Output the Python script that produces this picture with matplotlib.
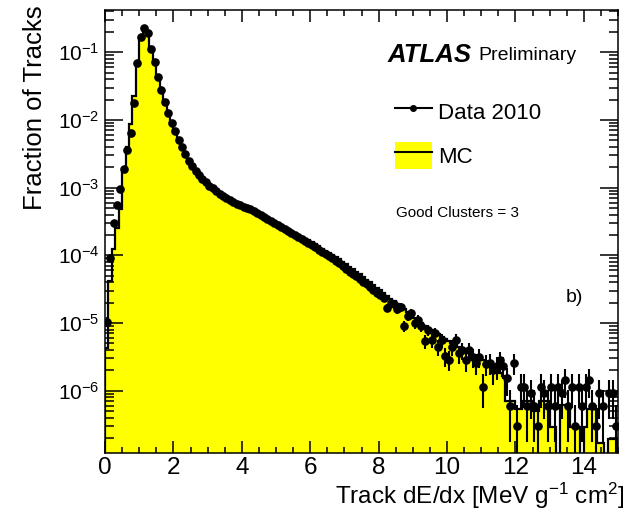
import numpy as np
import matplotlib
matplotlib.use("Agg")
import matplotlib.pyplot as plt
from matplotlib.ticker import MultipleLocator, LogLocator, FixedLocator, NullFormatter
from matplotlib.lines import Line2D
from matplotlib.patches import Patch

plt.rcParams['font.family'] = ['Liberation Sans', 'DejaVu Sans']
plt.rcParams['mathtext.fontset'] = 'custom'
plt.rcParams['mathtext.rm'] = 'Liberation Sans'
plt.rcParams['mathtext.it'] = 'Liberation Sans:italic'
plt.rcParams['mathtext.bf'] = 'Liberation Sans:bold'

# ---- data: fraction of tracks per 0.1 bin in dE/dx (log10 values)
x_min, x_max, n_bins = 0.0, 15.0, 150
y_decades = [1e-6, 1e-5, 1e-4, 1e-3, 1e-2, 1e-1]

data_log10 = [
    -4.98, -4.04, -3.52, -3.26, -3.02, -2.73, -2.45, -2.20, -1.75, -1.16,
    -0.78, -0.64, -0.71, -0.95, -1.15, -1.37, -1.56, -1.74, -1.90, -2.04,
    -2.17, -2.30, -2.40, -2.50, -2.60, -2.68, -2.75, -2.81, -2.87, -2.92,
    -2.97, -3.01, -3.05, -3.09, -3.12, -3.15, -3.18, -3.21, -3.24, -3.26,
    -3.28, -3.30, -3.32, -3.35, -3.38, -3.41, -3.44, -3.47, -3.50, -3.53,
    -3.55, -3.58, -3.61, -3.64, -3.67, -3.70, -3.73, -3.76, -3.79, -3.82,
    -3.85, -3.88, -3.92, -3.95, -3.98, -4.01, -4.04, -4.08, -4.12, -4.16,
    -4.20, -4.24, -4.28, -4.31, -4.35, -4.39, -4.43, -4.47, -4.51, -4.55,
    -4.58, -4.63, -4.78, -4.70, -4.72, -4.80, -4.76, -5.05, -4.90, -4.85,
    -5.00, -4.95, -5.05, -5.27, -5.10, -5.25, -5.15, -5.35, -5.25, -5.49,
    -5.54, -5.35, -5.25, -5.45, -5.40, -5.55, -5.40, -5.50, -5.59, -5.50,
    -5.94, -5.60, -5.59, -5.70, -5.64, -5.55, -5.63, -5.82, -6.22, -5.59,
    -6.52, -5.94, -5.94, -6.22, -6.04, -6.22, -6.52, -5.94, -6.04, -6.22,
    -5.94, -6.22, -5.94, -6.04, -5.84, -6.22, -5.94, -6.52, -5.94, -6.22,
    -5.94, -5.84, -6.22, -6.52, -6.04, -6.22, np.nan, -6.04, -6.04, -6.52,
]

mc_log10 = [
    -5.37, -4.38, -3.90, -3.60, -3.31, -2.77, -2.40, -2.06, -1.64, -1.20,
    -0.77, -0.63, -0.72, -0.93, -1.14, -1.36, -1.55, -1.73, -1.89, -2.03,
    -2.16, -2.29, -2.39, -2.49, -2.59, -2.67, -2.74, -2.80, -2.86, -2.91,
    -2.96, -3.00, -3.04, -3.08, -3.11, -3.14, -3.17, -3.20, -3.23, -3.25,
    -3.27, -3.29, -3.31, -3.34, -3.37, -3.40, -3.43, -3.46, -3.49, -3.51,
    -3.53, -3.56, -3.59, -3.62, -3.65, -3.68, -3.70, -3.73, -3.76, -3.78,
    -3.81, -3.84, -3.87, -3.90, -3.93, -3.96, -3.99, -4.02, -4.06, -4.10,
    -4.13, -4.17, -4.21, -4.25, -4.28, -4.32, -4.36, -4.40, -4.44, -4.48,
    -4.52, -4.56, -4.60, -4.64, -4.68, -4.72, -4.76, -4.80, -4.84, -4.88,
    -4.92, -4.96, -5.00, -5.04, -5.07, -5.11, -5.14, -5.17, -5.20, -5.23,
    -5.26, -5.29, -5.32, -5.35, -5.38, -5.41, -5.44, -5.47, -5.50, -5.53,
    -5.55, -5.58, -5.62, -5.66, -5.70, -5.74, -5.78, -6.16, -6.16, -6.16,
    -6.27, -6.27, -6.16, -6.16, -6.16, -6.30, -6.30, -6.16, -6.16, -6.16,
    -6.54, -6.54, np.nan, -6.21, -6.21, -6.21, -6.54, -6.54, -6.54, np.nan,
    -6.54, -6.27, -6.27, -6.27, -6.77, -6.77, np.nan, -6.72, -6.72, -6.72,
]

frac_per_track = 10 ** -6.52   # one track in the data sample

edges = np.linspace(x_min, x_max, n_bins + 1)
centers = 0.5 * (edges[:-1] + edges[1:])
data = 10 ** np.array(data_log10)
mc = np.nan_to_num(10 ** np.array(mc_log10), nan=0.0)
data_err = np.sqrt(data * frac_per_track)

fig = plt.figure(figsize=(6.32, 5.11), dpi=100)
ax = fig.add_axes([105 / 632, 1 - 453 / 511, 513 / 632, 443 / 511])

ax.stairs(mc, edges, baseline=0, fill=True, color='#ffff00', lw=0)
ax.stairs(mc, edges, baseline=0, color='black', lw=1.6)
ax.errorbar(centers, data, yerr=data_err, xerr=0.05, fmt='o', color='black',
            ms=5.2, elinewidth=1.5, capsize=0, zorder=3)

ax.set_yscale('log')
ax.set_xlim(x_min, x_max)
ax.set_ylim(1.2e-7, 0.42)

ax.xaxis.set_major_locator(MultipleLocator(2))
ax.xaxis.set_minor_locator(MultipleLocator(0.5))
ax.yaxis.set_major_locator(FixedLocator(y_decades))
ax.yaxis.set_minor_locator(LogLocator(base=10, subs=np.arange(2, 10), numticks=20))
ax.yaxis.set_minor_formatter(NullFormatter())

ax.tick_params(which='both', direction='in', top=True, right=True, width=1.1, colors='black')
ax.tick_params(axis='x', which='major', length=8.5, labelsize=17.5, pad=3)
ax.tick_params(axis='x', which='minor', length=4.3)
ax.tick_params(axis='y', which='major', length=13, labelsize=15, pad=4)
ax.tick_params(axis='y', which='minor', length=6.5)
for s in ax.spines.values():
    s.set_linewidth(1.1)

fig.text(35 / 632, 1 - 5 / 511, 'Fraction of Tracks', rotation=90, ha='center', va='top', fontsize=18.5)
fig.text(625 / 632, 1 - 496 / 511, 'Track dE/dx [MeV g$^{-1}$ cm$^{2}$]', ha='right', va='center', fontsize=17.5)

fig.text(388 / 632, 1 - 55 / 511, 'ATLAS', fontsize=18.5, fontweight='bold', fontstyle='italic', va='center')
fig.text(478 / 632, 1 - 56 / 511, 'Preliminary', fontsize=14, va='center')
fig.text(396 / 632, 1 - 213 / 511, 'Good Clusters = 3', fontsize=11, va='center')
fig.text(566 / 632, 1 - 297 / 511, 'b)', fontsize=14, va='center')

h_data = Line2D([], [], color='black', marker='o', ms=4, lw=1.5)
h_mc = (Patch(facecolor='#ffff00', edgecolor='none'), Line2D([], [], color='black', lw=1.5))
ax.legend([h_data, h_mc], ['Data 2010', 'MC'], loc='upper left',
          bbox_to_anchor=(395 / 632, 1 - 98 / 511), bbox_transform=fig.transFigure,
          frameon=False, fontsize=16, handlelength=1.65, handleheight=1.5,
          labelspacing=0.75, handletextpad=0.3, borderaxespad=0, borderpad=0)

fig.savefig('out.png', dpi=100)
